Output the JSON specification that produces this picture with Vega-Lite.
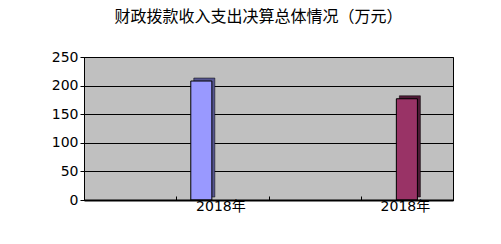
{
  "$schema": "https://vega.github.io/schema/vega-lite/v6.json",
  "width": 369,
  "height": 143,
  "autosize": {"type": "none"},
  "padding": {"left": 84, "top": 57, "right": 48, "bottom": 44},
  "background": "white",
  "title": {
    "text": "财政拨款收入支出决算总体情况（万元）",
    "font": "Noto Sans CJK SC",
    "fontSize": 16,
    "fontWeight": "normal",
    "color": "black",
    "anchor": "middle",
    "dx": -10,
    "offset": 25
  },
  "config": {
    "view": {"fill": "#C0C0C0", "stroke": "black", "strokeWidth": 1},
    "axis": {
      "labelFont": "DejaVu Sans, Noto Sans CJK SC",
      "labelFontSize": 14,
      "labelColor": "black",
      "domainColor": "black",
      "tickColor": "black",
      "gridColor": "black",
      "gridOpacity": 1,
      "title": null
    }
  },
  "data": {
    "values": [
      {"类别": "2", "系列": "收入", "金额": 208},
      {"类别": "4", "系列": "支出", "金额": 177}
    ]
  },
  "encoding": {
    "x": {
      "field": "类别",
      "type": "nominal",
      "scale": {"domain": ["1", "2", "3", "4"], "paddingInner": 0, "paddingOuter": 0},
      "axis": {
        "labelExpr": "datum.value == '2' || datum.value == '4' ? '2018年' : ''",
        "labelAngle": 0,
        "labelPadding": 3,
        "labelOffset": -2,
        "tickBand": "extent",
        "tickSize": -4,
        "domainWidth": 2,
        "grid": false,
        "zindex": 1
      }
    },
    "y": {
      "field": "金额",
      "type": "quantitative",
      "scale": {"domain": [0, 250], "nice": false},
      "axis": {
        "values": [0, 50, 100, 150, 200, 250],
        "grid": true,
        "tickSize": 4,
        "labelPadding": 2,
        "domainWidth": 1
      }
    }
  },
  "layer": [
    {
      "mark": {"type": "bar", "yOffset": -3, "stroke": "black", "strokeWidth": 0.5},
      "encoding": {
        "xOffset": {
          "field": "系列",
          "type": "nominal",
          "scale": {"domain": ["收入", "支出", "系列3"], "paddingOuter": 0.69, "paddingInner": 0, "range": [3, 95.25]}
        },
        "color": {
          "field": "系列",
          "type": "nominal",
          "scale": {"domain": ["收入", "支出"], "range": ["#55558F", "#4F1A36"]},
          "legend": null
        }
      }
    },
    {
      "mark": {"type": "bar", "stroke": "black", "strokeWidth": 1},
      "encoding": {
        "xOffset": {
          "field": "系列",
          "type": "nominal",
          "scale": {"domain": ["收入", "支出", "系列3"], "paddingOuter": 0.69, "paddingInner": 0}
        },
        "color": {
          "field": "系列",
          "type": "nominal",
          "scale": {"domain": ["收入", "支出"], "range": ["#9999FF", "#993366"]},
          "legend": null
        }
      }
    }
  ],
  "resolve": {"scale": {"color": "independent", "xOffset": "independent"}}
}
